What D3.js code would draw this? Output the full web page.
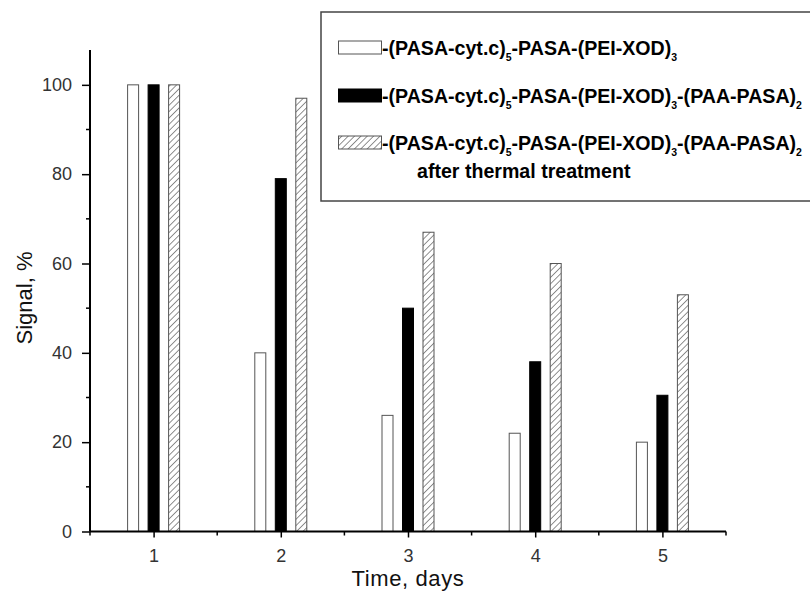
<!DOCTYPE html>
<html>
<head>
<meta charset="utf-8">
<script src="https://cdn.jsdelivr.net/npm/d3@7"></script>
<style>
  html, body { margin: 0; padding: 0; background: #fff; }
  svg { display: block; font-family: "Liberation Sans", Arial, sans-serif; }
</style>
</head>
<body>
<svg id="chart" width="810" height="592"></svg>
<script>
// Days on the x axis
const days = [1, 2, 3, 4, 5];
// Series keys, in drawing order inside each day group
const seriesKeys = ["plain", "capped", "heated"];
// Relative signal, % for each series
const plainValues  = [100, 40, 26, 22, 20];
const cappedValues = [100, 79, 50, 38, 30.5];
const heatedValues = [100, 97, 67, 60, 53];
// Axis ticks
const yMajorTicks = [0, 20, 40, 60, 80, 100];
const yMinorTicks = [10, 30, 50, 70, 90];
const xMinorTicks = [0.5, 1.5, 2.5, 3.5, 4.5, 5.5];
// Legend labels: [text, isSubscript]
const legendLabels = [
  [["-(PASA-cyt.c)", false], ["5", true], ["-PASA-(PEI-XOD)", false], ["3", true]],
  [["-(PASA-cyt.c)", false], ["5", true], ["-PASA-(PEI-XOD)", false], ["3", true], ["-(PAA-PASA)", false], ["2", true]],
  [["-(PASA-cyt.c)", false], ["5", true], ["-PASA-(PEI-XOD)", false], ["3", true], ["-(PAA-PASA)", false], ["2", true]]
];
const legendExtraLine = "after thermal treatment";
const xTitle = "Time, days";
const yTitle = "Signal, %";

const valuesBySeries = { plain: plainValues, capped: cappedValues, heated: heatedValues };

const svg = d3.select("#chart");

// Hatch pattern for the heated series
const defs = svg.append("defs");
const pat = defs.append("pattern")
  .attr("id", "hatch")
  .attr("patternUnits", "userSpaceOnUse")
  .attr("width", 4.5).attr("height", 4.5)
  .attr("patternTransform", "rotate(45)");
pat.append("rect").attr("width", 4.5).attr("height", 4.5).attr("fill", "#fff");
pat.append("line").attr("x1", 0).attr("y1", 0).attr("x2", 0).attr("y2", 4.5)
  .attr("stroke", "#222").attr("stroke-width", 1);

const fills = { plain: "#fff", capped: "#000", heated: "url(#hatch)" };
const strokes = { plain: "#555", capped: "#000", heated: "#555" };

const x = d3.scaleLinear().domain([0.5, 5.5]).range([90, 726]);
const y = d3.scaleLinear().domain([0, 107.8]).range([531.5, 50]);
const offset = d3.scalePoint().domain(seriesKeys).range([-20.5, 20.5]);
const barW = 11;

// Bars
const rows = [];
seriesKeys.forEach(k => days.forEach((d, i) => rows.push({ key: k, day: d, v: valuesBySeries[k][i] })));
svg.append("g").selectAll("rect").data(rows).join("rect")
  .attr("x", d => x(d.day) + offset(d.key) - barW / 2)
  .attr("y", d => y(d.v))
  .attr("width", barW)
  .attr("height", d => y(0) - y(d.v))
  .attr("fill", d => fills[d.key])
  .attr("stroke", d => strokes[d.key])
  .attr("stroke-width", 1);

// Y axis
const yAxis = svg.append("g").attr("transform", `translate(${x(0.5)},0)`)
  .call(d3.axisLeft(y).tickValues(yMajorTicks).tickSize(8).tickPadding(10).tickFormat(d3.format("d")));
yAxis.select(".domain").attr("d", `M0,${y(0)}V${y(107.8)}`).attr("stroke-width", 2);
yAxis.selectAll(".tick line").attr("stroke-width", 1.5);
yAxis.selectAll(".tick text").attr("font-size", 18).attr("fill", "#333")
  .attr("font-family", "Liberation Sans, Arial, sans-serif");
yAxis.append("g").selectAll("line").data(yMinorTicks).join("line")
  .attr("x1", -4).attr("x2", 0).attr("y1", d => y(d)).attr("y2", d => y(d))
  .attr("stroke", "#000").attr("stroke-width", 1.5);

// X axis
const xAxis = svg.append("g").attr("transform", `translate(0,${y(0)})`)
  .call(d3.axisBottom(x).tickValues(days).tickSize(6).tickPadding(12).tickFormat(d3.format("d")));
xAxis.select(".domain").attr("d", `M${x(0.5)},0H${x(5.5)}`).attr("stroke-width", 2);
xAxis.selectAll(".tick line").attr("stroke-width", 1.5);
xAxis.selectAll(".tick text").attr("font-size", 18).attr("fill", "#333")
  .attr("font-family", "Liberation Sans, Arial, sans-serif");
xAxis.append("g").selectAll("line").data(xMinorTicks).join("line")
  .attr("x1", d => x(d)).attr("x2", d => x(d)).attr("y1", 0).attr("y2", 4)
  .attr("stroke", "#000").attr("stroke-width", 1.5);

// Axis titles
svg.append("text")
  .attr("x", (x(0.5) + x(5.5)) / 2).attr("y", 586)
  .attr("text-anchor", "middle").attr("font-size", 22).attr("fill", "#111")
  .attr("letter-spacing", 0.6)
  .text(xTitle);
svg.append("text")
  .attr("transform", "translate(32,298) rotate(-90)")
  .attr("text-anchor", "middle").attr("font-size", 22).attr("fill", "#111")
  .text(yTitle);

// Legend (box runs past the right edge of the canvas)
const lg = svg.append("g");
lg.append("rect").attr("x", 321).attr("y", 12).attr("width", 500).attr("height", 189)
  .attr("fill", "#fff").attr("stroke", "#444").attr("stroke-width", 1.5);
const baselines = [55, 103, 150];
seriesKeys.forEach((k, i) => {
  const b = baselines[i];
  lg.append("rect").attr("x", 338.5).attr("y", b - 14).attr("width", 43).attr("height", 13)
    .attr("fill", fills[k]).attr("stroke", strokes[k]).attr("stroke-width", 1);
  const t = lg.append("text").attr("x", 382).attr("y", b)
    .attr("font-size", 19.6).attr("font-weight", "bold").attr("fill", "#000");
  let shifted = false;
  legendLabels[i].forEach(([s, sub]) => {
    const ts = t.append("tspan").text(s);
    if (sub && !shifted) { ts.attr("dy", 6).attr("font-size", 10.5); shifted = true; }
    else if (!sub && shifted) { ts.attr("dy", -6); shifted = false; }
    else if (sub) { ts.attr("font-size", 10.5); }
  });
});
lg.append("text").attr("x", 417).attr("y", 178)
  .attr("font-size", 19.6).attr("font-weight", "bold").attr("fill", "#000")
  .text(legendExtraLine);
</script>
</body>
</html>
